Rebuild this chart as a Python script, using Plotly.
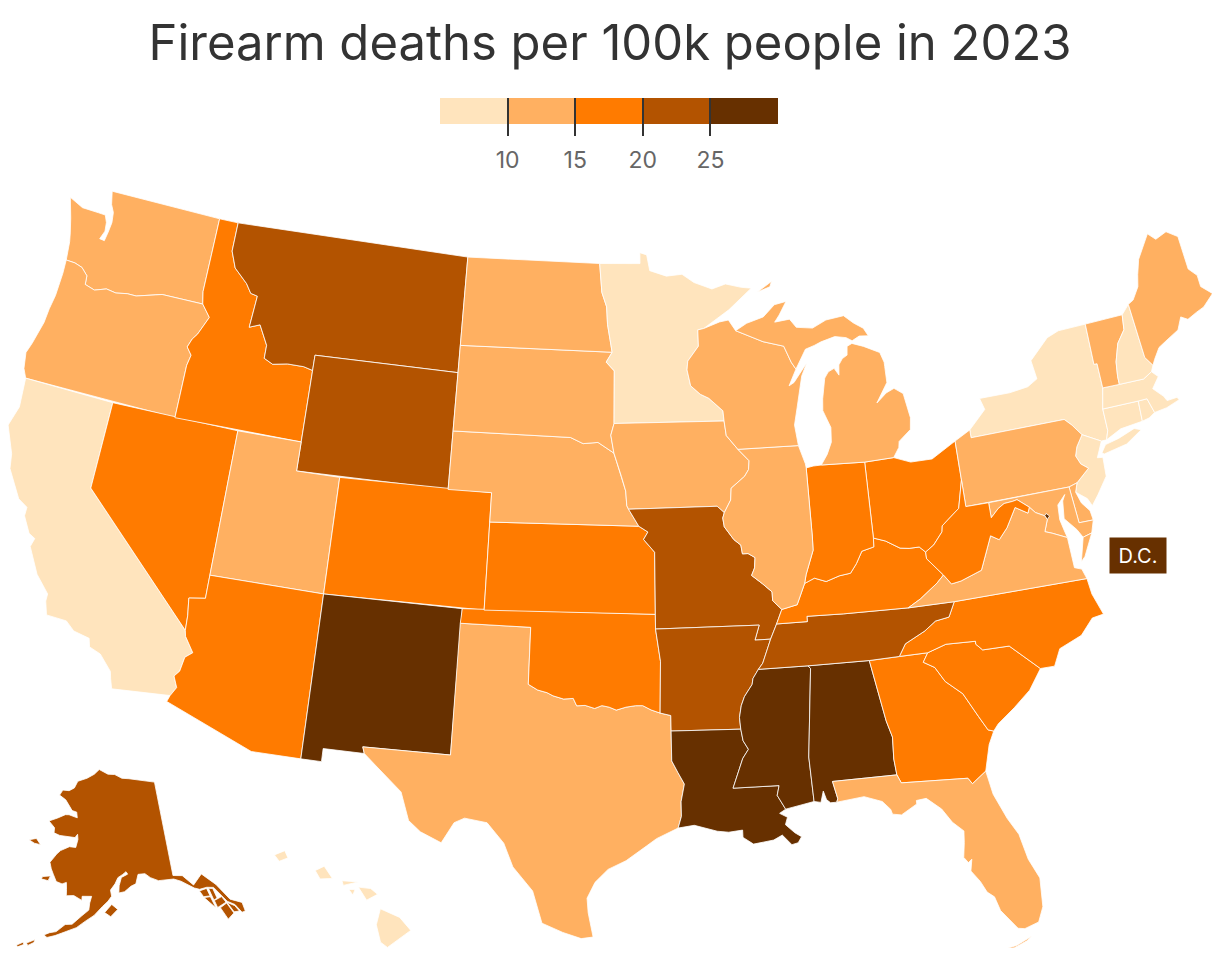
import math
from bisect import bisect

import plotly.graph_objects as go

# no topojson offline, so state outlines are simplified lon/lat rings written by hand
title = "Firearm deaths per 100k people in 2023"
tick_vals = [10, 15, 20, 25]
bin_edges = [5, 10, 15, 20, 25, 30]
bin_colors = ["#ffe4bd", "#ffb061", "#ff7b00", "#b35300", "#673000"]

rates = {
    "AL": 26.5, "AK": 23.5, "AZ": 18.5, "AR": 22.5, "CA": 8.7, "CO": 17.5, "CT": 6.5, "DE": 12.5, "DC": 28.5,
    "FL": 14.5, "GA": 18.5, "HI": 5.0, "ID": 17.0, "IL": 13.5, "IN": 16.5, "IA": 11.5, "KS": 16.5, "KY": 19.5,
    "LA": 28.5, "ME": 12.5, "MD": 11.5, "MA": 3.5, "MI": 13.5, "MN": 9.5, "MS": 29.5, "MO": 22.5, "MT": 23.5,
    "NE": 11.5, "NV": 18.5, "NH": 8.5, "NJ": 4.5, "NM": 25.5, "NY": 5.5, "NC": 16.5, "ND": 13.5, "OH": 15.5,
    "OK": 18.5, "OR": 13.5, "PA": 12.5, "RI": 4.5, "SC": 19.5, "SD": 14.5, "TN": 22.5, "TX": 14.5, "UT": 13.5,
    "VT": 11.5, "VA": 14.5, "WA": 12.5, "WV": 19.5, "WI": 12.5, "WY": 21.5,
}

# shared borders
columbia = [(-116.92, 46.0), (-118.98, 46.0), (-119.3, 45.93), (-120.2, 45.73), (-120.65, 45.73), (-121.2, 45.65),
            (-121.7, 45.7), (-122.25, 45.55), (-122.76, 45.65), (-122.8, 45.95), (-123.15, 46.18), (-123.55, 46.26),
            (-124.0, 46.27)]
snake = [(-117.04, 46.42), (-116.92, 46.0), (-116.46, 45.6), (-116.85, 44.95), (-117.05, 44.75), (-117.2, 44.45),
         (-116.93, 44.2), (-117.03, 43.83), (-117.03, 42.0)]
bitterroot = [(-116.05, 49.0), (-116.05, 48.0), (-115.72, 47.45), (-115.0, 47.0), (-114.7, 46.7), (-114.35, 46.65),
              (-114.45, 45.55), (-113.95, 45.7), (-113.45, 45.05), (-113.45, 44.6), (-113.0, 44.45), (-112.3, 44.55),
              (-111.5, 44.55), (-111.05, 44.47)]
colorado = [(-114.63, 35.0), (-114.57, 34.8), (-114.14, 34.3), (-114.43, 34.1), (-114.53, 33.6), (-114.72, 33.4),
            (-114.52, 33.03), (-114.72, 32.72)]
red_river = [(-100.0, 34.56), (-99.6, 34.38), (-99.2, 34.3), (-98.95, 34.2), (-98.5, 34.1), (-98.1, 34.13),
             (-97.95, 33.88), (-97.6, 33.9), (-97.2, 33.8), (-96.9, 33.9), (-96.6, 33.85), (-96.3, 33.75),
             (-95.9, 33.85), (-95.5, 33.9), (-95.2, 33.9), (-94.85, 33.75), (-94.48, 33.64)]
sabine = [(-94.04, 33.02), (-94.04, 32.0), (-93.8, 31.6), (-93.55, 31.2), (-93.7, 30.6), (-93.7, 30.1), (-93.84, 29.7)]
missouri_ne = [(-96.45, 42.49), (-96.1, 41.7), (-95.9, 41.2), (-95.85, 40.7), (-95.77, 40.58)]
missouri_ks = [(-95.31, 40.0), (-94.9, 39.8), (-95.1, 39.55), (-94.61, 39.11)]
niobrara = [(-98.5, 43.0), (-97.9, 42.8), (-97.2, 42.85), (-96.45, 42.49)]
big_sioux = [(-96.45, 43.5), (-96.6, 43.1), (-96.45, 42.49)]
red_north = [(-97.23, 49.0), (-97.1, 48.0), (-96.85, 47.5), (-96.8, 46.9), (-96.56, 45.94), (-96.85, 45.6),
             (-96.45, 45.3), (-96.45, 43.5)]
st_croix = [(-92.3, 46.66), (-92.3, 46.1), (-92.85, 45.6), (-92.9, 45.3), (-92.75, 44.75), (-92.3, 44.45),
            (-91.9, 44.3), (-91.25, 43.85), (-91.22, 43.5)]
miss_wi = [(-91.22, 43.5), (-91.15, 43.0), (-90.64, 42.51)]
miss_ia = [(-90.64, 42.51), (-90.15, 42.1), (-90.2, 41.8), (-90.4, 41.58), (-91.05, 41.2), (-91.1, 40.8), (-91.42, 40.38)]
miss_mo = [(-91.42, 40.38), (-91.5, 40.2), (-91.45, 39.9), (-91.05, 39.45), (-90.75, 39.25), (-90.7, 38.95),
           (-90.45, 38.95), (-90.15, 38.8), (-90.2, 38.45), (-90.35, 38.2), (-89.9, 37.9), (-89.5, 37.6),
           (-89.5, 37.3), (-89.13, 36.98)]
miss_ky = [(-89.13, 36.98), (-89.4, 36.5)]
miss_heel = [(-89.4, 36.5), (-89.7, 36.0)]
miss_tn = [(-89.7, 36.0), (-89.9, 35.6), (-90.1, 35.2), (-90.3, 35.0)]
miss_ar = [(-90.3, 35.0), (-90.55, 34.7), (-90.6, 34.5), (-90.95, 34.1), (-91.1, 33.8), (-91.2, 33.4), (-91.17, 33.0)]
miss_la = [(-91.17, 33.0), (-91.1, 32.6), (-90.9, 32.3), (-91.15, 32.0), (-91.6, 31.0)]
ohio_wv = [(-80.52, 40.64), (-80.85, 39.7), (-81.7, 39.2), (-81.75, 39.0), (-82.2, 38.6), (-82.6, 38.4)]
ohio_oh = [(-82.6, 38.4), (-82.85, 38.6), (-83.3, 38.6), (-83.7, 38.65), (-84.3, 38.95), (-84.82, 39.1)]
ohio_in = [(-84.82, 39.1), (-84.85, 38.8), (-85.4, 38.7), (-85.7, 38.3), (-86.0, 38.0), (-86.5, 37.95), (-87.1, 37.8),
           (-87.6, 37.95), (-88.05, 37.8)]
ohio_il = [(-88.05, 37.8), (-88.45, 37.1), (-89.13, 36.98)]
wabash = [(-87.53, 41.71), (-87.53, 39.35), (-87.55, 38.9), (-87.95, 38.1), (-88.05, 37.8)]
up_wi = [(-90.42, 46.57), (-89.1, 46.13), (-88.1, 45.92), (-87.8, 45.35), (-87.6, 45.1)]
tn_nc = [(-84.32, 35.0), (-84.0, 35.4), (-83.1, 35.75), (-82.6, 36.03), (-82.0, 36.1), (-81.68, 36.59)]
va_ky = [(-83.68, 36.6), (-83.1, 36.85), (-82.3, 37.3), (-81.97, 37.54)]
va_wv = [(-81.97, 37.54), (-81.68, 37.2), (-81.25, 37.25), (-80.3, 37.5), (-79.65, 38.6), (-79.3, 38.42),
         (-78.87, 38.77), (-78.35, 39.4), (-77.83, 39.13), (-77.72, 39.32)]
potomac = [(-76.33, 38.05), (-76.95, 38.3), (-77.25, 38.4), (-77.04, 38.79), (-77.12, 38.93), (-77.5, 39.1), (-77.72, 39.32)]
md_wv = [(-77.72, 39.32), (-78.2, 39.65), (-78.4, 39.62), (-78.8, 39.6), (-79.1, 39.47), (-79.48, 39.2), (-79.48, 39.72)]
sc_ga = [(-83.11, 35.0), (-83.35, 34.7), (-82.9, 34.47), (-82.55, 33.95), (-81.9, 33.45), (-81.4, 32.6), (-81.1, 32.1), (-80.88, 32.03)]
nc_sc = [(-83.11, 35.0), (-82.3, 35.2), (-81.04, 35.15), (-81.05, 35.05), (-80.8, 34.82), (-79.67, 34.8), (-78.55, 33.86)]
al_ga = [(-85.6, 34.98), (-85.18, 32.87), (-85.0, 32.3), (-85.05, 31.55), (-85.0, 31.0)]
ga_fl = [(-85.0, 31.0), (-84.86, 30.71), (-82.2, 30.57), (-82.05, 30.36), (-81.45, 30.72)]
ms_al = [(-88.2, 35.0), (-88.1, 34.9), (-88.47, 31.9), (-88.4, 30.37)]
ms_la = [(-91.6, 31.0), (-89.75, 31.0), (-89.85, 30.67), (-89.55, 30.18)]
ny_pa = [(-79.76, 42.27), (-79.76, 42.0), (-75.35, 42.0), (-75.05, 41.75), (-74.7, 41.36)]
pa_nj = [(-74.7, 41.36), (-75.05, 41.0), (-75.2, 40.7), (-75.05, 40.4), (-74.75, 40.2), (-75.4, 39.8)]
ny_ct = [(-73.65, 41.0), (-73.5, 41.3), (-73.49, 42.05)]
ny_vt = [(-73.26, 42.75), (-73.25, 43.6), (-73.4, 43.6), (-73.35, 45.01)]
vt_nh = [(-71.5, 45.01), (-71.6, 44.5), (-72.05, 44.1), (-72.35, 43.5), (-72.45, 43.0), (-72.46, 42.73)]

outlines = {
    "WA": [[(-124.73, 48.38), (-123.98, 48.16), (-123.12, 48.15), (-122.76, 48.14), (-122.6, 47.9), (-122.55, 47.6), (-122.7, 47.3),
            (-122.45, 47.28), (-122.38, 47.6), (-122.33, 47.95), (-122.4, 48.3), (-122.6, 48.55), (-122.76, 49.0),
            (-117.03, 49.0), (-117.04, 46.42)] + columbia + [(-124.07, 46.7), (-124.1, 46.9), (-124.2, 47.2), (-124.4, 47.7)]],
    "OR": [[(-124.0, 46.27), (-123.97, 45.8), (-124.0, 45.0), (-124.1, 44.5), (-124.15, 44.0), (-124.4, 43.2),
            (-124.55, 42.84), (-124.42, 42.3), (-124.21, 42.0)] + snake[::-1][:-1] + columbia],
    "CA": [[(-124.21, 42.0), (-120.0, 42.0), (-120.0, 39.0)] + colorado + [(-117.12, 32.53), (-117.25, 32.85), (-117.33, 33.1),
            (-117.9, 33.6), (-118.4, 33.75), (-118.5, 34.03), (-119.2, 34.15), (-119.6, 34.42), (-120.47, 34.45),
            (-120.65, 34.9), (-120.65, 35.15), (-121.3, 35.7), (-121.9, 36.55), (-121.8, 36.85), (-122.1, 36.97),
            (-122.5, 37.5), (-122.5, 37.8), (-122.95, 38.0), (-123.7, 38.9), (-123.82, 39.4), (-124.35, 40.3), (-124.1, 41.0)]],
    "NV": [[(-120.0, 42.0), (-114.04, 42.0), (-114.05, 36.2), (-114.4, 36.15), (-114.75, 36.1), (-114.65, 35.5), (-114.63, 35.0), (-120.0, 39.0)]],
    "ID": [[(-117.03, 49.0)] + bitterroot + [(-111.05, 42.0)] + snake[::-1]],
    "MT": [bitterroot + [(-111.05, 45.0), (-104.05, 45.0), (-104.05, 49.0)]],
    "WY": [[(-111.05, 45.0), (-104.05, 45.0), (-104.05, 41.0), (-111.05, 41.0)]],
    "UT": [[(-114.04, 42.0), (-111.05, 42.0), (-111.05, 41.0), (-109.05, 41.0), (-109.05, 37.0), (-114.05, 37.0)]],
    "CO": [[(-109.05, 41.0), (-102.05, 41.0), (-102.05, 37.0), (-109.05, 37.0)]],
    "AZ": [[(-114.05, 37.0), (-109.05, 37.0), (-109.05, 31.33), (-111.07, 31.33), (-114.81, 32.5)] + colorado[::-1] +
           [(-114.65, 35.5), (-114.75, 36.1), (-114.4, 36.15), (-114.05, 36.2)]],
    "NM": [[(-109.05, 37.0), (-103.0, 37.0), (-103.04, 32.0), (-106.62, 32.0), (-106.53, 31.78), (-108.21, 31.78), (-108.21, 31.33), (-109.05, 31.33)]],
    "TX": [[(-103.04, 36.5), (-100.0, 36.5)] + red_river + [(-94.04, 33.55)] + sabine +
           [(-94.7, 29.35), (-95.1, 29.1), (-95.9, 28.6), (-96.6, 28.3), (-97.1, 27.85), (-97.4, 27.3), (-97.35, 26.8),
            (-97.15, 25.96), (-97.6, 25.9), (-98.3, 26.1), (-99.1, 26.4), (-99.5, 27.5), (-100.3, 28.3), (-100.7, 29.1),
            (-101.4, 29.77), (-102.3, 29.88), (-102.7, 29.7), (-103.15, 28.98), (-104.0, 29.3), (-104.5, 29.65),
            (-104.9, 30.6), (-106.0, 31.4), (-106.53, 31.78), (-106.62, 32.0), (-103.04, 32.0)]],
    "OK": [[(-103.0, 37.0), (-94.62, 37.0), (-94.62, 36.5), (-94.43, 35.4)] + red_river[::-1] + [(-100.0, 36.5), (-103.04, 36.5)]],
    "KS": [[(-102.05, 40.0)] + missouri_ks + [(-94.62, 37.0), (-102.05, 37.0)]],
    "NE": [[(-104.05, 43.0)] + niobrara + missouri_ne + [(-95.31, 40.0), (-102.05, 40.0), (-102.05, 41.0), (-104.05, 41.0)]],
    "SD": [[(-104.05, 45.94), (-96.56, 45.94), (-96.85, 45.6), (-96.45, 45.3)] + big_sioux + niobrara[::-1] + [(-104.05, 43.0)]],
    "ND": [[(-104.05, 49.0)] + red_north[:5] + [(-104.05, 45.94)]],
    "MN": [[(-97.23, 49.0), (-95.15, 49.0), (-95.15, 49.38), (-94.8, 49.3), (-94.65, 48.75), (-93.8, 48.55), (-93.0, 48.6),
            (-92.4, 48.3), (-91.5, 48.05), (-90.8, 48.2), (-90.0, 48.05), (-89.5, 48.0), (-90.7, 47.3), (-92.0, 46.7)] +
           st_croix + red_north[::-1][:-1]],
    "IA": [[(-96.45, 43.5)] + miss_wi + miss_ia + [(-91.73, 40.61)] + missouri_ne[::-1] + [(-96.6, 43.1)]],
    "MO": [[(-95.77, 40.58), (-91.73, 40.61)] + miss_mo + miss_ky + miss_heel + [(-90.37, 36.0), (-90.15, 36.5), (-94.62, 36.5),
           (-94.62, 37.0)] + missouri_ks[::-1]],
    "AR": [[(-94.62, 36.5), (-90.15, 36.5), (-90.37, 36.0)] + miss_tn + miss_ar + [(-94.04, 33.02), (-94.04, 33.55), (-94.48, 33.64), (-94.43, 35.4)]],
    "LA": [[(-94.04, 33.02)] + miss_la + ms_la + [(-89.8, 30.05), (-89.5, 29.9), (-89.6, 29.65), (-89.25, 29.35), (-89.0, 29.2), (-89.15, 29.0), (-89.4, 28.95),
           (-89.75, 29.3), (-90.1, 29.15), (-90.9, 29.05), (-91.3, 29.3), (-91.3, 29.55), (-91.85, 29.5), (-92.3, 29.55), (-93.2, 29.78)] + sabine[::-1][:-1]],
    "MS": [miss_tn[-1:] + ms_al + ms_la[::-1] + miss_la[::-1] + miss_ar[::-1]],
    "AL": [ms_al + [(-88.13, 30.32), (-88.0, 30.7), (-87.9, 30.4), (-87.75, 30.28), (-87.5, 30.28), (-87.45, 30.4), (-87.6, 31.0)] + al_ga[::-1]],
    "GA": [al_ga + ga_fl + [(-81.3, 31.2), (-81.15, 31.6)] + sc_ga[::-1]],
    "FL": [[(-87.6, 31.0)] + ga_fl + [(-81.3, 29.9), (-80.9, 29.0), (-80.55, 28.4), (-80.35, 27.5), (-80.03, 26.8), (-80.1, 25.8),
            (-80.35, 25.3), (-80.9, 25.15), (-81.15, 25.2), (-81.7, 25.9), (-81.85, 26.4), (-82.1, 26.6), (-82.3, 27.0), (-82.6, 27.4),
            (-82.5, 27.8), (-82.65, 27.7), (-82.8, 27.9), (-82.7, 28.4), (-82.65, 28.8), (-83.05, 29.15), (-83.4, 29.65),
            (-83.95, 30.08), (-84.35, 30.05), (-84.35, 29.93), (-85.0, 29.62), (-85.35, 29.68), (-85.4, 29.85), (-85.7, 30.15),
            (-86.4, 30.38), (-87.5, 30.28), (-87.45, 30.4)],
           [(-81.8, 24.55), (-81.3, 24.62), (-80.7, 24.85), (-80.9, 24.72), (-81.4, 24.55)]],
    "SC": [nc_sc + [(-79.15, 33.2), (-79.9, 32.7), (-80.65, 32.25)] + sc_ga[::-1]],
    "NC": [[(-84.32, 35.0)] + nc_sc + [(-77.95, 33.85), (-77.6, 34.4), (-76.6, 34.7), (-76.0, 35.2), (-75.5, 35.25), (-75.8, 36.0),
            (-75.87, 36.55)] + tn_nc[::-1]],
    "TN": [[(-90.3, 35.0), (-88.2, 35.0), (-85.6, 34.98)] + tn_nc + [(-83.68, 36.6), (-86.5, 36.65), (-88.07, 36.68), (-88.07, 36.5)] + miss_heel + miss_tn],
    "KY": [[(-89.4, 36.5), (-88.07, 36.5), (-88.07, 36.68), (-86.5, 36.65)] + va_ky + [(-82.6, 38.17)] + ohio_oh + ohio_in + ohio_il + miss_ky],
    "OH": [[(-84.81, 41.7), (-83.45, 41.73), (-82.7, 41.5), (-81.7, 41.5), (-80.52, 41.98)] + ohio_wv + ohio_oh],
    "IN": [[(-87.53, 41.71), (-87.2, 41.75), (-86.82, 41.76), (-84.81, 41.7)] + ohio_in + wabash[::-1]],
    "IL": [[(-90.64, 42.51), (-87.8, 42.49), (-87.55, 41.85)] + wabash + ohio_il + miss_mo[::-1] + miss_ia[::-1]],
    "WI": [[(-92.3, 46.66), (-92.0, 46.7), (-91.2, 46.9), (-90.75, 46.95)] + up_wi +
           [(-88.0, 44.55), (-87.75, 44.65), (-87.05, 45.28), (-87.35, 44.85), (-87.55, 44.3), (-87.7, 43.8), (-87.9, 43.2), (-87.8, 42.49)] +
           miss_wi[::-1] + st_croix[::-1]],
    "MI": [[(-86.82, 41.76), (-84.81, 41.7), (-83.45, 41.73), (-83.15, 42.05), (-83.1, 42.25), (-82.5, 42.6), (-82.42, 43.0),
            (-82.6, 43.85), (-83.0, 44.07), (-83.4, 43.95), (-83.9, 43.65), (-83.55, 44.05), (-83.3, 44.3), (-83.3, 44.85), (-83.3, 45.0), (-83.45, 45.35), (-84.2, 45.63),
            (-84.75, 45.78), (-85.0, 45.7), (-85.05, 45.4), (-85.3, 45.3), (-85.5, 45.1), (-85.55, 44.75), (-85.75, 45.0), (-86.05, 44.9),
            (-86.25, 44.7), (-86.45, 44.0), (-86.5, 43.6), (-86.2, 43.0), (-86.25, 42.5), (-86.5, 42.1)],
           up_wi + [(-87.05, 45.75), (-86.6, 45.85), (-86.25, 45.95), (-85.55, 46.08), (-85.0, 46.0), (-84.72, 45.87), (-84.35, 46.0), (-83.9, 45.97),
            (-84.1, 46.25), (-84.55, 46.47), (-85.0, 46.76), (-85.9, 46.68), (-86.6, 46.45), (-87.4, 46.53), (-87.7, 46.83), (-88.45, 46.77),
            (-88.2, 47.0), (-87.8, 47.45), (-88.4, 47.37), (-89.0, 46.98), (-89.85, 46.8)],
           [(-89.2, 47.85), (-88.45, 48.18), (-88.55, 48.0)]],
    "NY": [ny_pa + [(-73.9, 41.0)] + ny_ct + ny_vt + [(-74.7, 45.0), (-75.3, 44.85), (-76.3, 44.2), (-76.2, 43.55), (-76.7, 43.35),
            (-77.6, 43.27), (-79.05, 43.27), (-78.9, 42.87)],
           [(-74.0, 40.6), (-73.75, 40.85), (-73.1, 40.95), (-72.3, 41.15), (-72.0, 41.05), (-72.8, 40.7), (-73.9, 40.55)]],
    "NJ": [[(-74.7, 41.36), (-73.9, 41.0), (-74.1, 40.7), (-74.25, 40.48), (-74.0, 40.45), (-74.05, 39.8), (-74.6, 39.25),
            (-74.95, 38.93), (-75.1, 39.2), (-75.55, 39.5)] + pa_nj[::-1][:-1]],
    "PA": [[(-80.52, 41.98)] + ny_pa + pa_nj[1:] + [(-75.79, 39.72), (-80.52, 39.72), (-80.52, 40.64)]],
    "DE": [[(-75.79, 39.72), (-75.4, 39.8), (-75.55, 39.5), (-75.4, 39.1), (-75.1, 38.78), (-75.05, 38.45), (-75.69, 38.46)]],
    "MD": [[(-79.48, 39.72), (-75.79, 39.72), (-75.69, 38.46), (-75.05, 38.45), (-75.24, 38.03), (-75.65, 37.95), (-75.85, 38.25),
            (-76.3, 38.7), (-76.2, 39.3), (-76.05, 39.5), (-76.45, 39.2), (-76.5, 38.7), (-76.4, 38.3)] + potomac + md_wv[1:]],
    "DC": [[(-77.12, 38.93), (-77.04, 39.0), (-76.91, 38.89), (-77.04, 38.79)]],
    "VA": [[(-83.68, 36.6), (-81.68, 36.59), (-75.87, 36.55), (-76.0, 36.9), (-76.3, 37.0), (-76.3, 37.55)] + potomac + va_wv[::-1][1:] + va_ky[::-1][:-1],
           [(-75.24, 38.03), (-75.65, 37.95), (-75.95, 37.15), (-75.75, 37.3)]],
    "WV": [[(-80.52, 40.64), (-80.52, 39.72)] + md_wv[::-1] + va_wv[::-1][1:] + [(-82.6, 38.17)] + ohio_wv[::-1][:-1]],
    "CT": [ny_ct + [(-71.8, 42.02), (-71.85, 41.32), (-72.9, 41.25)]],
    "RI": [[(-71.8, 42.02), (-71.38, 42.02), (-71.2, 41.5), (-71.5, 41.37), (-71.85, 41.32)]],
    "MA": [[(-73.49, 42.05), (-73.26, 42.75), (-72.46, 42.73), (-71.3, 42.7), (-70.85, 42.87), (-70.6, 42.65), (-71.0, 42.3), (-70.6, 41.95),
            (-70.5, 41.78), (-70.0, 41.8), (-70.2, 42.07), (-69.95, 41.7), (-70.6, 41.55), (-71.2, 41.5), (-71.38, 42.02), (-71.8, 42.02)]],
    "VT": [ny_vt + vt_nh],
    "NH": [vt_nh + [(-71.3, 42.7), (-70.85, 42.87), (-70.7, 43.07), (-70.98, 43.4), (-71.08, 45.3)]],
    "ME": [[(-71.08, 45.3), (-70.8, 45.4), (-70.4, 45.8), (-70.25, 46.2), (-70.0, 46.7), (-69.23, 47.46), (-68.9, 47.2), (-68.3, 47.35),
            (-67.8, 47.07), (-67.78, 45.9), (-67.45, 45.6), (-67.45, 45.2), (-67.0, 44.85), (-67.6, 44.5), (-68.0, 44.4), (-68.5, 44.25), (-68.8, 44.4), (-69.1, 44.0),
            (-69.8, 43.75), (-70.2, 43.6), (-70.55, 43.25), (-70.7, 43.07), (-70.98, 43.4)]],
    "HI": [[(-155.9, 20.25), (-155.2, 19.95), (-154.8, 19.5), (-155.65, 18.92), (-155.9, 19.1), (-156.05, 19.7)],
           [(-156.7, 21.0), (-156.25, 20.95), (-156.0, 20.75), (-156.4, 20.55)],
           [(-158.28, 21.57), (-157.95, 21.72), (-157.65, 21.3), (-158.1, 21.28)],
           [(-159.78, 22.1), (-159.4, 22.25), (-159.28, 22.0), (-159.6, 21.88)],
           [(-157.3, 21.22), (-156.7, 21.18), (-157.25, 21.06)],
           [(-157.05, 20.92), (-156.82, 20.92), (-156.9, 20.73)]],
    "AK": [[(-141.0, 69.65), (-144.0, 70.0), (-148.0, 70.35), (-150.0, 70.45), (-152.0, 70.85), (-154.0, 70.9), (-156.6, 71.35),
            (-158.0, 70.85), (-160.0, 70.4), (-162.5, 70.0), (-163.2, 69.3), (-164.5, 68.95), (-166.2, 68.9), (-166.8, 68.35),
            (-165.0, 68.0), (-163.7, 67.4), (-163.0, 67.05), (-161.8, 66.95), (-161.5, 66.4), (-163.6, 66.6), (-164.5, 66.55),
            (-166.2, 66.1), (-168.1, 65.65), (-166.5, 65.1), (-166.4, 64.6), (-165.0, 64.45), (-163.0, 64.5), (-161.5, 64.45),
            (-161.0, 64.8), (-160.8, 64.3), (-161.1, 63.5), (-162.5, 63.5), (-164.3, 63.0), (-165.0, 62.6), (-166.1, 61.7),
            (-165.6, 61.1), (-165.0, 60.6), (-164.2, 59.95), (-163.0, 59.8), (-162.2, 60.0), (-162.0, 59.3), (-161.9, 58.7),
            (-160.5, 58.8), (-158.9, 58.4), (-158.9, 58.8), (-157.1, 58.85), (-157.4, 58.2), (-157.5, 57.5), (-158.7, 56.9),
            (-160.3, 56.0), (-161.5, 55.9), (-162.9, 55.1), (-164.0, 54.9), (-164.9, 54.6), (-164.3, 54.4), (-163.0, 54.7),
            (-162.0, 55.0), (-160.5, 55.4), (-159.5, 55.7), (-158.0, 56.4), (-156.5, 57.0), (-155.0, 57.9), (-154.0, 58.4),
            (-153.3, 58.9), (-153.5, 59.5), (-152.6, 60.1), (-152.0, 60.7), (-151.0, 61.0), (-150.3, 61.25), (-150.0, 61.0),
            (-151.3, 60.7), (-151.8, 59.9), (-151.9, 59.2), (-150.8, 59.3), (-149.5, 59.8), (-148.5, 60.0), (-147.9, 60.9),
            (-146.5, 60.9), (-145.5, 60.45), (-144.0, 60.05), (-142.0, 60.0), (-141.0, 59.95), (-139.7, 59.6), (-138.6, 59.15),
            (-137.5, 58.65), (-136.6, 58.4), (-135.2, 58.4), (-134.0, 58.2), (-133.0, 57.2), (-132.4, 56.5), (-131.3, 55.95), (-130.6, 55.0), (-130.0, 55.0),
            (-130.0, 55.9), (-131.8, 56.6), (-133.4, 58.4), (-135.5, 59.8), (-137.5, 58.95), (-139.2, 60.1), (-141.0, 60.3)],
           [(-136.7, 58.25), (-135.3, 58.3), (-135.05, 57.5), (-136.25, 57.6)],
           [(-136.2, 57.5), (-135.05, 57.42), (-134.65, 56.2), (-135.45, 56.9)],
           [(-134.95, 58.25), (-134.2, 58.12), (-133.95, 57.1), (-134.6, 57.0)],
           [(-134.55, 56.95), (-133.1, 57.1), (-132.65, 56.45), (-134.35, 56.2)],
           [(-133.9, 56.1), (-132.6, 56.35), (-131.95, 55.2), (-133.2, 54.8)],
           [(-132.5, 56.4), (-131.4, 55.85), (-130.95, 55.2), (-131.85, 55.3)],
           [(-154.6, 57.3), (-153.3, 58.1), (-152.2, 57.6), (-153.5, 56.9)],
           [(-167.0, 60.2), (-165.5, 60.4), (-165.8, 59.9), (-167.2, 59.95)],
           [(-171.5, 63.4), (-170.0, 63.7), (-168.8, 63.2), (-170.2, 63.2)],
           [(-167.5, 53.5), (-166.2, 54.0), (-166.3, 53.7), (-167.2, 53.3)],
           [(-169.0, 53.1), (-168.0, 53.55), (-167.9, 53.3), (-168.8, 52.95)],
           [(-174.5, 52.3), (-173.5, 52.3), (-173.6, 52.1), (-174.6, 52.05)]],
}


def conic(lon, lat, rotate, center, parallels):
    # conic equal area, same as d3's albers, y pointing up
    s0, s1 = math.sin(math.radians(parallels[0])), math.sin(math.radians(parallels[1]))
    n = (s0 + s1) / 2
    c = 1 + s0 * (2 * n - s0)
    r0 = math.sqrt(c) / n

    def raw(lam, phi):
        r = math.sqrt(c - 2 * n * math.sin(math.radians(phi))) / n
        a = math.radians(lam) * n
        return r * math.sin(a), r0 - r * math.cos(a)

    x, y = raw(lon + rotate, lat)
    x0, y0 = raw(*center)
    return x - x0, y - y0


def albers_usa(lon, lat, state):
    # geoAlbersUsa layout: alaska and hawaii moved under the lower 48
    if state == "AK":
        x, y = conic(lon, lat, 154, (-2, 58.5), (55, 65))
        return 0.35 * x - 0.307, 0.35 * y - 0.201
    if state == "HI":
        x, y = conic(lon, lat, 157, (-3, 19.9), (8, 18))
        return x - 0.205, y - 0.212
    return conic(lon, lat, 96, (-0.6, 38.7), (29.5, 45.5))


def bin_color(value):
    return bin_colors[bisect(tick_vals, value)]


fig = go.Figure()

for state, rings in outlines.items():
    xs, ys = [], []
    for ring in rings:
        for lon, lat in ring + ring[:1]:
            x, y = albers_usa(lon, lat, state)
            xs.append(x)
            ys.append(y)
        xs.append(None)
        ys.append(None)
    fig.add_trace(go.Scatter(
        x=xs[:-1], y=ys[:-1], xaxis="x2", yaxis="y2", mode="lines", fill="toself", fillcolor=bin_color(rates[state]),
        line=dict(color="white", width=0.8), name=state, text=state, hoverinfo="text", showlegend=False,
    ))

# colour key as stacked bars on a real axis, ticks run up through the bars
fig.add_trace(go.Bar(
    x=[b - a for a, b in zip(bin_edges, bin_edges[1:])], base=bin_edges[:-1], y=[25] * 5, width=26, orientation="h",
    marker=dict(color=bin_colors, line_width=0), hoverinfo="skip", showlegend=False,
))

# the page body adds 8px around the figure
W, H = 1204, 940
map_k, map_cx, map_cy = 1670, 602, 556.5

fig.update_layout(
    width=W, height=H, margin=dict(l=0, r=0, t=0, b=0), autosize=False,
    paper_bgcolor="white", plot_bgcolor="rgba(0,0,0,0)",
    title=dict(text=title, x=0.5, xanchor="center", y=1 - 35 / H, yanchor="middle",
               font=dict(size=49, color="#333333", family="Inter")),
    xaxis=dict(domain=[432 / W, 770 / W], range=[5, 30], tickvals=tick_vals, ticks="inside", ticklen=38, tickwidth=1.5,
               tickcolor="#333333", layer="above traces", showgrid=False, zeroline=False, showline=False,
               ticklabelstandoff=8, tickfont=dict(size=23, color="#666666", family="Inter"), fixedrange=True),
    yaxis=dict(domain=[1 - 128 / H, 1 - 90 / H], range=[0, 38], visible=False, fixedrange=True),
    xaxis2=dict(domain=[0, 1], range=[-map_cx / map_k, (W - map_cx) / map_k], visible=False, fixedrange=True),
    yaxis2=dict(domain=[0, 1], range=[-(H - map_cy) / map_k, map_cy / map_k], visible=False, fixedrange=True),
    annotations=[dict(text="D.C.", x=1130 / W, y=1 - 547.5 / H, xref="paper", yref="paper", xanchor="center", yanchor="middle",
                      showarrow=False, width=56, height=35, bgcolor="#673000", borderpad=0,
                      font=dict(size=20, color="white", family="Inter"))],
)
fig.write_html("out.html")
